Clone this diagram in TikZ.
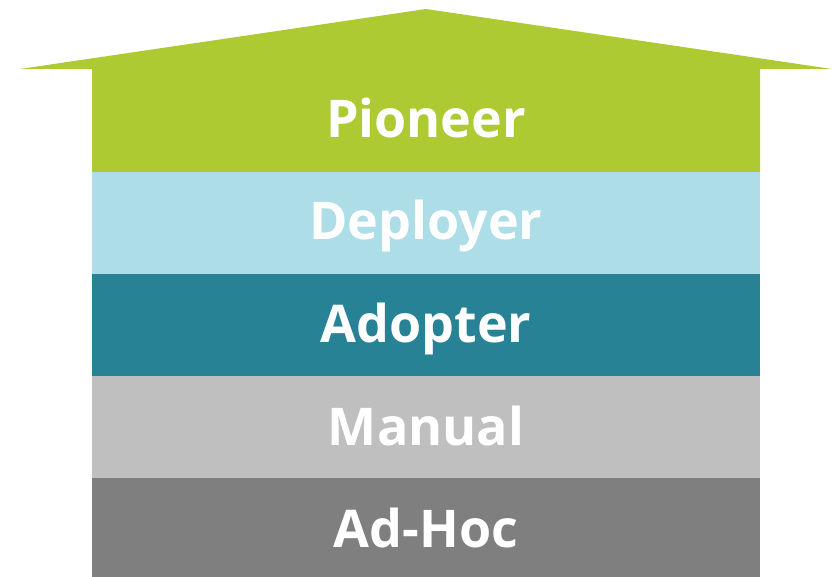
\documentclass[tikz,border=0pt]{standalone}
\usepackage{fontspec}
\setmainfont{Open Sans}
\definecolor{cgreen}{HTML}{ADCA33}
\definecolor{cblue}{HTML}{ADDEE8}
\definecolor{cteal}{HTML}{268294}
\definecolor{clgray}{HTML}{BFBFBF}
\definecolor{cdgray}{HTML}{7F7F7F}
\begin{document}
\begin{tikzpicture}[x=1pt,y=-1pt,
  label/.style={text=white,font=\fontsize{52}{60}\selectfont\bfseries,anchor=base,inner sep=0pt}]
\useasboundingbox (0,0) rectangle (833,577);
\fill[cgreen] (20,69) -- (426,9) -- (832,69) -- (760,69) -- (760,172) -- (92,172) -- (92,69) -- cycle;
\fill[cblue] (92,172) rectangle (760,274);
\fill[cteal] (92,274) rectangle (760,376);
\fill[clgray] (92,376) rectangle (760,478);
\fill[cdgray] (92,478) rectangle (760,577);
\node[label] (pioneer) at (426,137.5) {Pioneer};
\node[label] (deployer) at (426,240) {Deployer};
\node[label] (adopter) at (426,342.5) {Adopter};
\node[label] (manual) at (426,445) {Manual};
\node[label] (adhoc) at (426,547.5) {Ad-Hoc};
\end{tikzpicture}
\end{document}
